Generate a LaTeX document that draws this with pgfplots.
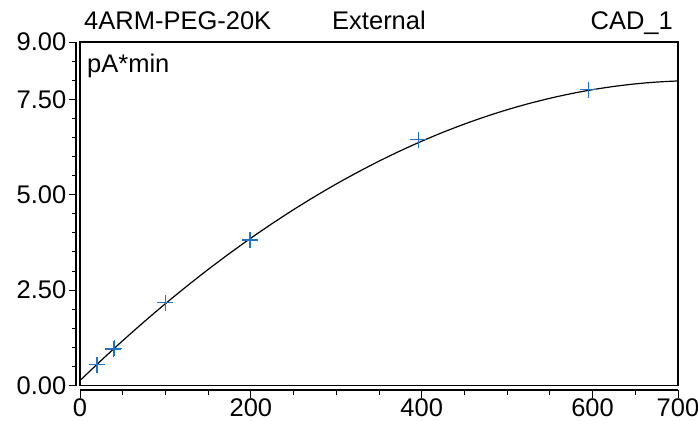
\documentclass[border=0pt]{standalone}
\usepackage{pgfplots}
\pgfplotsset{compat=1.18}
\usepackage{fontspec}
\setmainfont{Liberation Sans}
\definecolor{markblue}{RGB}{30,115,205}
\begin{document}
\begin{tikzpicture}
\useasboundingbox (0,0) rectangle (698pt,420pt);
\begin{axis}[
  at={(80pt,34.5pt)}, anchor=south west,
  scale only axis, width=598pt, height=343.5pt,
  xmin=0, xmax=700, ymin=0, ymax=9,
  axis x line*=bottom, axis y line*=left,
  axis x line shift=4.5pt, axis y line shift=4pt,
  axis line style={-, line width=1.3pt, black},
  xtick={0,200,400,600,700},
  minor xtick={50,100,...,650},
  ytick={0,2.5,5,7.5,9},
  minor ytick={0.5,1,...,8.5},
  tick align=outside,
  major tick length=7.5pt, minor tick length=4.5pt,
  tick style={black, line width=1pt},
  /pgf/number format/assume math mode=true,
  tick label style={font=\fontsize{25.5}{29}\selectfont},
  yticklabel={\pgfmathprintnumber[fixed,fixed zerofill,precision=2]{\tick}},
  xticklabel={\pgfmathprintnumber[fixed,precision=0]{\tick}},
  yticklabel style={inner sep=2pt},
  xticklabel style={inner sep=0pt, yshift=-0.5pt},
  clip=false,
]
\draw[line width=1.3pt] (rel axis cs:0,0) rectangle (rel axis cs:1,1);
\addplot[black, line width=1.2pt, smooth] coordinates {
(0,0.13) (25,0.6615) (50,1.174) (75,1.6686) (100,2.144) (125,2.6013) (150,3.040)
(175,3.4596) (200,3.861) (225,4.2435) (250,4.608) (275,4.953) (300,5.280)
(325,5.5881) (350,5.878) (375,6.1488) (400,6.401) (425,6.6351) (450,6.850)
(475,7.047) (500,7.225) (525,7.3845) (550,7.525) (575,7.6476) (600,7.751)
(625,7.8363) (650,7.903) (675,7.9506) (700,7.980)};
\addplot[only marks, mark=+, mark size=8pt, mark options={markblue, line width=1.2pt}] coordinates {
(20,0.54) (39,0.955) (40,0.975) (100,2.17) (199,3.81) (396,6.44) (595,7.75)};
\node[anchor=base west, font=\fontsize{25.5}{29}\selectfont, inner sep=0pt] at ([xshift=4pt,yshift=12.5pt]rel axis cs:0,1) {4ARM-PEG-20K};
\node[anchor=base, font=\fontsize{25.5}{29}\selectfont, inner sep=0pt] at ([yshift=12.5pt]rel axis cs:0.5,1) {External};
\node[anchor=base east, font=\fontsize{25.5}{29}\selectfont, inner sep=0pt] at ([xshift=-5pt,yshift=12.5pt]rel axis cs:1,1) {CAD\_1};
\node[anchor=base west, font=\fontsize{25.5}{29}\selectfont, inner sep=0pt] at ([xshift=7pt,yshift=-30pt]rel axis cs:0,1) {pA*min};
\end{axis}
\end{tikzpicture}
\end{document}
